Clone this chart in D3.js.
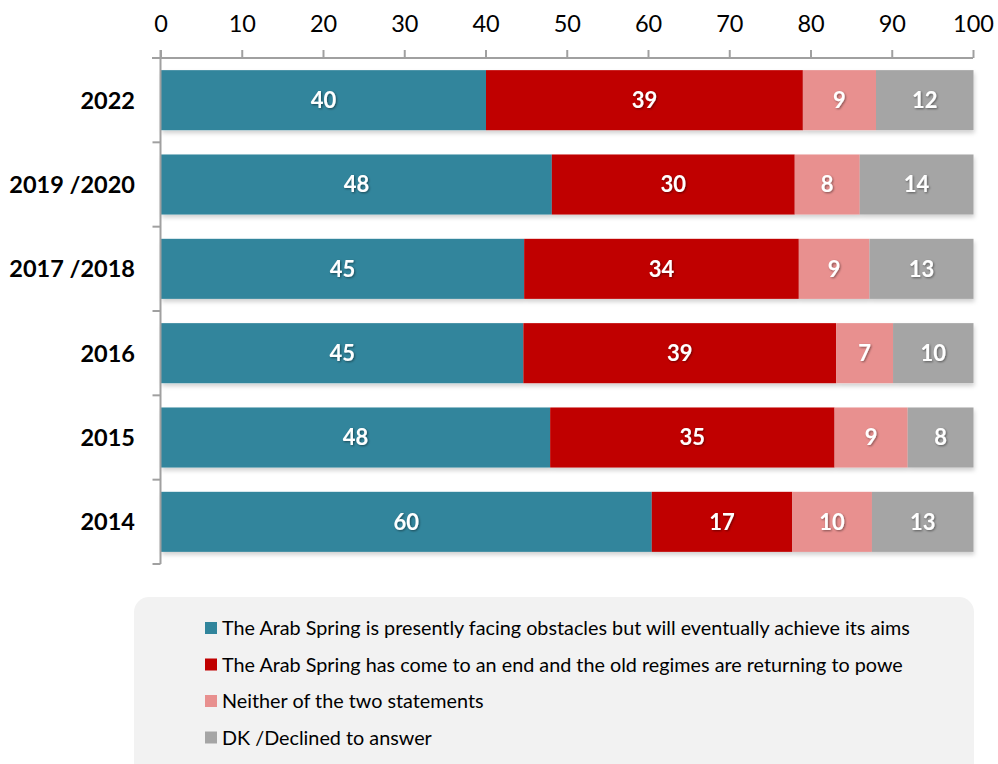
<!DOCTYPE html>
<html>
<head>
<meta charset="utf-8">
<script src="https://cdn.jsdelivr.net/npm/d3@7"></script>
<style>
  html, body { margin: 0; padding: 0; background: #ffffff; }
  svg { display: block; font-family: Lato, "Open Sans", sans-serif; }
</style>
</head>
<body>
<svg id="chart" width="998" height="764"></svg>
<script>
// Survey waves, top to bottom
const categories = ["2022", "2019 /2020", "2017 /2018", "2016", "2015", "2014"];

// Answer options (stack order, left to right)
const seriesNames = [
  "The Arab Spring is presently facing obstacles but will eventually achieve its aims",
  "The Arab Spring has come to an end and the old regimes are returning to powe",
  "Neither of the two statements",
  "DK /Declined to answer"
];

// Percentages per answer, one value per wave (same order as categories)
const eventuallyAchieve = [40.0, 48.1, 44.7, 44.6, 47.9, 60.4];
const comeToEnd         = [39.0, 29.9, 33.8, 38.5, 35.0, 17.3];
const neither           = [9.0,  8.0,  8.7,  7.0,  9.0,  9.8];
const declined          = [12.0, 14.0, 12.8, 9.9,  8.1,  12.5];

const xTicks = [0, 10, 20, 30, 40, 50, 60, 70, 80, 90, 100];

const colors = ["#31859c", "#c00000", "#e8908f", "#a5a5a5"];

const seriesValues = [eventuallyAchieve, comeToEnd, neither, declined];
const keys = ["s0", "s1", "s2", "s3"];
const rows = categories.map((c, i) => {
  const r = { category: c };
  keys.forEach((k, j) => { r[k] = seriesValues[j][i]; });
  return r;
});

const svg = d3.select("#chart");

// Soft shadow under bars and under white value labels
const defs = svg.append("defs");
const barShadow = defs.append("filter").attr("id", "barShadow")
  .attr("x", "-2%").attr("y", "-10%").attr("width", "104%").attr("height", "130%");
barShadow.append("feDropShadow").attr("dx", 1).attr("dy", 3).attr("stdDeviation", 2)
  .attr("flood-color", "#000").attr("flood-opacity", 0.18);
const textShadow = defs.append("filter").attr("id", "textShadow")
  .attr("x", "-20%").attr("y", "-20%").attr("width", "140%").attr("height", "140%");
textShadow.append("feDropShadow").attr("dx", 1).attr("dy", 1).attr("stdDeviation", 0.8)
  .attr("flood-color", "#000").attr("flood-opacity", 0.45);

const x = d3.scaleLinear().domain([0, 100]).range([160.5, 973]);
const y = d3.scaleBand().domain(categories).range([58, 564]).paddingInner(0.288).paddingOuter(0.144);

const stacked = d3.stack().keys(keys)(rows);

// Bars
const layers = svg.append("g").attr("filter", "url(#barShadow)")
  .selectAll("g.layer").data(stacked).join("g")
  .attr("class", "layer")
  .attr("fill", (d, i) => colors[i]);

layers.selectAll("rect").data(d => d).join("rect")
  .attr("x", d => x(d[0]) + 0.5)
  .attr("y", d => y(d.data.category))
  .attr("width", d => x(d[1]) - x(d[0]))
  .attr("height", y.bandwidth());

// Value labels
const labelG = svg.append("g").attr("filter", "url(#textShadow)");
stacked.forEach((layer) => {
  labelG.selectAll(null).data(layer).join("text")
    .attr("x", d => (x(d[0]) + x(d[1])) / 2 + 0.5)
    .attr("y", d => y(d.data.category) + y.bandwidth() / 2)
    .attr("dy", "0.36em")
    .attr("text-anchor", "middle")
    .attr("fill", "#ffffff")
    .attr("font-weight", 700)
    .attr("font-size", 22)
    .text(d => Math.round(d[1] - d[0] + 1e-9));
});

// Top axis
const xAxis = d3.axisTop(x).tickValues(xTicks).tickSize(8).tickPadding(18).tickFormat(d3.format("d"));
const gx = svg.append("g").attr("transform", "translate(0,58)").call(xAxis);
gx.select(".domain").attr("stroke", "#a0a0a0").attr("stroke-width", 2)
  .attr("d", `M152,0H${x(100)}`);
gx.selectAll(".tick line").attr("stroke", "#a0a0a0").attr("stroke-width", 2);
gx.selectAll(".tick text").attr("fill", "#000").attr("font-size", 23.5)
  .attr("font-family", "Lato, 'Open Sans', sans-serif");

// Left axis: ticks at band boundaries
const yAxisLine = svg.append("g");
yAxisLine.append("line")
  .attr("x1", x(0)).attr("x2", x(0)).attr("y1", 50).attr("y2", 564)
  .attr("stroke", "#a0a0a0").attr("stroke-width", 2);
const step = y.step();
const boundaries = categories.map((c, i) => 58 + step * (i + 1));
yAxisLine.selectAll("line.b").data(boundaries).join("line")
  .attr("class", "b")
  .attr("x1", x(0) - 8).attr("x2", x(0))
  .attr("y1", d => d).attr("y2", d => d)
  .attr("stroke", "#a0a0a0").attr("stroke-width", 2);

// Category labels
svg.append("g").selectAll("text").data(categories).join("text")
  .attr("x", 135)
  .attr("y", d => y(d) + y.bandwidth() / 2)
  .attr("dy", "0.36em")
  .attr("text-anchor", "end")
  .attr("font-weight", 700)
  .attr("font-size", 23.5)
  .attr("fill", "#000")
  .text(d => d);

// Legend
const legend = svg.append("g");
legend.append("rect")
  .attr("x", 134).attr("y", 597).attr("width", 840).attr("height", 190)
  .attr("rx", 15).attr("fill", "#f2f2f2");
const legendRows = legend.selectAll("g.item").data(seriesNames).join("g")
  .attr("class", "item")
  .attr("transform", (d, i) => `translate(205,${628 + i * 36.5})`);
legendRows.append("rect")
  .attr("x", 0).attr("y", -6).attr("width", 12).attr("height", 12)
  .attr("fill", (d, i) => colors[i]);
legendRows.append("text")
  .attr("x", 17).attr("dy", "0.36em")
  .attr("font-size", 19.8).attr("fill", "#000")
  .text(d => d);
</script>
</body>
</html>
